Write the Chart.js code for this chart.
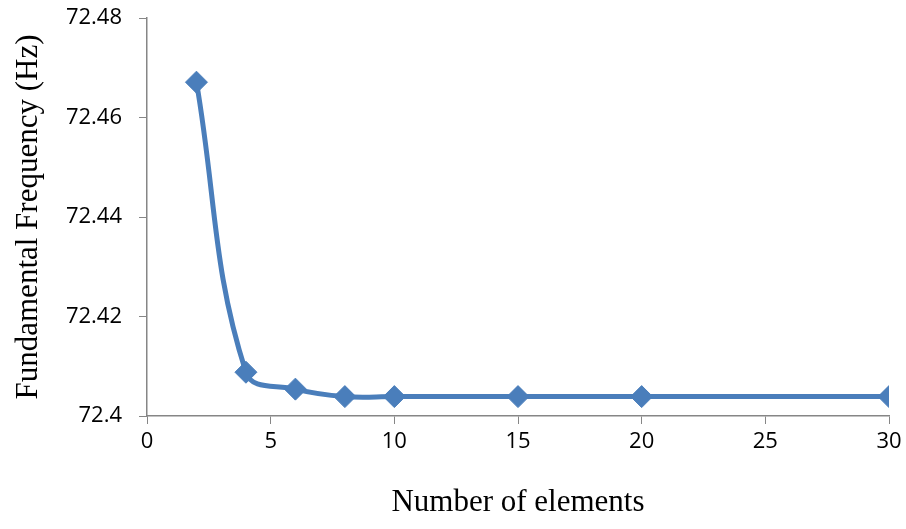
<!DOCTYPE html>
<html>
<head>
<meta charset="utf-8">
<script src="https://cdn.jsdelivr.net/npm/chart.js@4"></script>
<style>
  html, body { margin: 0; padding: 0; background: #fff; }
  #wrap { width: 906px; height: 529px; }
</style>
</head>
<body>
<div id="wrap"><canvas id="freqChart" width="906" height="529"></canvas></div>
<script>
// Number of elements vs fundamental frequency
const elements = [2, 4, 6, 8, 10, 15, 20, 30];
const frequency = [72.4671, 72.4088, 72.4054, 72.4039, 72.4039, 72.4039, 72.4039, 72.4039];

const xTitle = 'Number of elements';
const yTitle = 'Fundamental Frequency (Hz)';

const axisGray = '#868686';
const lineBlue = '#4A7EBB';

const ctx = document.getElementById('freqChart').getContext('2d');

const chart = new Chart(ctx, {
    type: 'line',
    data: {
        datasets: [{
            label: yTitle,
            data: elements.map((x, i) => ({ x: x, y: frequency[i] })),
            borderColor: lineBlue,
            backgroundColor: lineBlue,
            borderWidth: 5,
            pointStyle: 'rectRot',
            pointRadius: 11,
            pointBackgroundColor: lineBlue,
            pointBorderColor: lineBlue,
            pointBorderWidth: 1,
            tension: 0.4,
            fill: false
        }]
    },
    options: {
        responsive: false,
        animation: false,
        layout: { padding: { top: 18, right: 17, left: 0, bottom: 0 } },
        scales: {
            x: {
                type: 'linear',
                min: 0,
                max: 30,
                afterFit: (scale) => {
                    scale.height = 113;
                    scale.paddingLeft = 0;
                    scale.paddingRight = 0;
                },
                grid: {
                    display: true,
                    drawOnChartArea: false,
                    drawTicks: true,
                    tickLength: 8,
                    color: axisGray
                },
                border: { color: axisGray, width: 1.5 },
                ticks: {
                    stepSize: 5,
                    color: '#000',
                    padding: 5,
                    maxRotation: 0,
                    font: { family: 'Open Sans', size: 22 }
                },
                title: {
                    display: true,
                    text: xTitle,
                    color: '#000',
                    padding: { top: 0, bottom: 8 },
                    font: { family: 'Liberation Serif', size: 31 }
                }
            },
            y: {
                min: 72.4,
                max: 72.48,
                afterFit: (scale) => {
                    scale.width = 147;
                    scale.paddingTop = 0;
                    scale.paddingBottom = 0;
                },
                grid: {
                    display: true,
                    drawOnChartArea: false,
                    drawTicks: true,
                    tickLength: 8,
                    color: axisGray
                },
                border: { color: axisGray, width: 1.5 },
                ticks: {
                    stepSize: 0.02,
                    color: '#000',
                    padding: 17,
                    font: { family: 'Open Sans', size: 22 },
                    callback: (value) => String(parseFloat(value.toFixed(2)))
                },
                title: {
                    display: true,
                    text: yTitle,
                    color: '#000',
                    padding: { top: 10, bottom: 0 },
                    font: { family: 'Liberation Serif', size: 31 }
                }
            }
        },
        plugins: {
            legend: { display: false },
            tooltip: { enabled: false }
        }
    }
});
</script>
</body>
</html>
